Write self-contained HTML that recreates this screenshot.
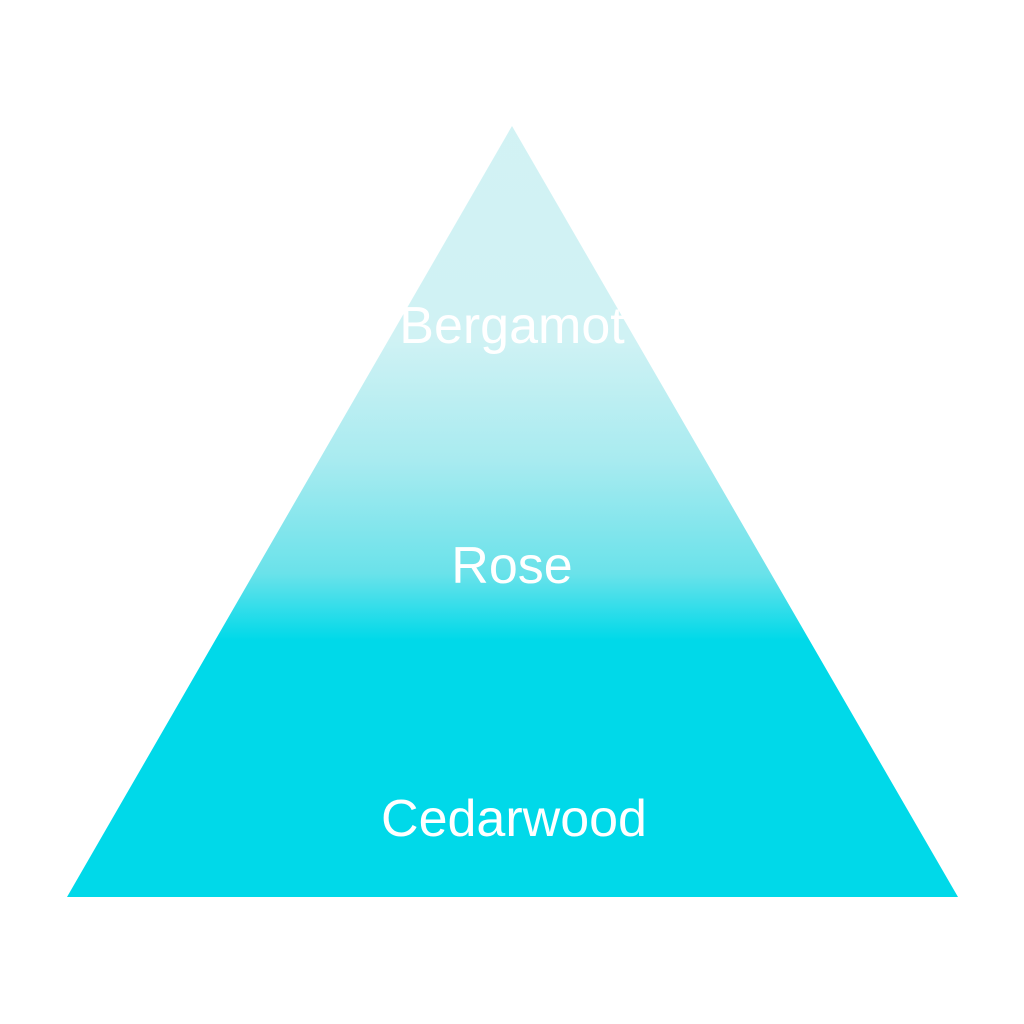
<!DOCTYPE html>
<html><head><meta charset="utf-8"><style>
html,body{margin:0;padding:0;background:#fff;}
svg{display:block}
</style></head><body>
<svg width="1024" height="1024" viewBox="0 0 1024 1024" xmlns="http://www.w3.org/2000/svg">
<defs>
<linearGradient id="g" x1="0" y1="0" x2="0" y2="1024" gradientUnits="userSpaceOnUse">
<stop offset="0" stop-color="#d3f3f5"/>
<stop offset="0.33" stop-color="#d0f2f4"/>
<stop offset="0.45" stop-color="#a8ebf0"/>
<stop offset="0.56" stop-color="#6ae2ea"/>
<stop offset="0.625" stop-color="#00d9e9"/>
<stop offset="1" stop-color="#00d9e9"/>
</linearGradient>
</defs>
<polygon points="512,126 958,897 67,897" fill="url(#g)"/>
<g fill="#fff" font-family="Liberation Sans, sans-serif" font-size="52" font-weight="300" text-anchor="middle">
<text x="512" y="343">Bergamot</text>
<text x="512" y="583">Rose</text>
<text x="514" y="836">Cedarwood</text>
</g>
</svg>
</body></html>
